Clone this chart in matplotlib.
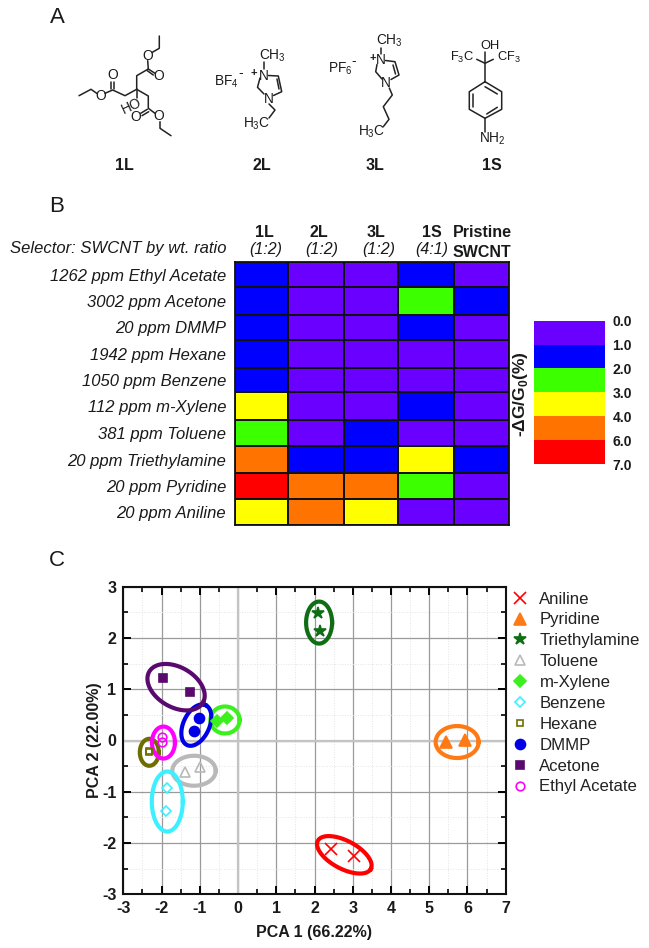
import numpy as np
import matplotlib
matplotlib.use("Agg")
import matplotlib.pyplot as plt
from matplotlib.colors import ListedColormap, BoundaryNorm
from matplotlib.cm import ScalarMappable
from matplotlib.ticker import MultipleLocator
from matplotlib.lines import Line2D

plt.rcParams['font.family'] = ['Liberation Sans', 'DejaVu Sans']
plt.rcParams['mathtext.fontset'] = 'custom'
plt.rcParams['mathtext.rm'] = 'Liberation Sans'
plt.rcParams['mathtext.bf'] = 'Liberation Sans:bold'
plt.rcParams['axes.unicode_minus'] = False

W, H = 649, 948

# ---------- Panel B data ----------
analytes = ["1262 ppm Ethyl Acetate", "3002 ppm Acetone", "20 ppm DMMP", "1942 ppm Hexane",
            "1050 ppm Benzene", "112 ppm m-Xylene", "381 ppm Toluene", "20 ppm Triethylamine",
            "20 ppm Pyridine", "20 ppm Aniline"]
selectors = ["1L", "2L", "3L", "1S", "Pristine"]
ratios = ["(1:2)", "(1:2)", "(1:2)", "(4:1)"]
response = [[1.5, 0.5, 0.5, 1.5, 0.5],
            [1.5, 0.5, 0.5, 2.5, 1.5],
            [1.5, 0.5, 0.5, 1.5, 0.5],
            [1.5, 0.5, 0.5, 0.5, 0.5],
            [1.5, 0.5, 0.5, 0.5, 0.5],
            [3.5, 0.5, 0.5, 1.5, 0.5],
            [2.5, 0.5, 1.5, 0.5, 0.5],
            [5.0, 1.5, 1.5, 3.5, 1.5],
            [6.5, 5.0, 5.0, 2.5, 0.5],
            [3.5, 5.0, 3.5, 0.5, 0.5]]
col_edges = [234.5, 288, 344.4, 398.3, 453.9, 508.7]
row_edges = [261.7, 287.3, 315.3, 339.7, 367.7, 392.3, 420, 446, 473.3, 498.7, 524.7]
levels = [0, 1, 2, 3, 4, 6, 7]
level_labels = ["0.0", "1.0", "2.0", "3.0", "4.0", "6.0", "7.0"]
band_colors = ["#6a00ff", "#0000ff", "#3cff00", "#ffff00", "#ff7400", "#ff0000"]

# ---------- Panel C data ----------
names = ["Aniline", "Pyridine", "Triethylamine", "Toluene", "m-Xylene", "Benzene", "Hexane",
         "DMMP", "Acetone", "Ethyl Acetate"]
pc1 = [[2.43, 3.02], [5.44, 5.94], [2.10, 2.15], [-1.38, -1.00], [-0.56, -0.29],
       [-1.85, -1.88], [-2.34, -2.34], [-1.01, -1.15], [-1.95, -1.25], [-1.99, -1.99]]
pc2 = [[-2.11, -2.26], [-0.02, 0.01], [2.48, 2.14], [-0.61, -0.52], [0.39, 0.43],
       [-0.92, -1.38], [-0.23, -0.20], [0.44, 0.18], [1.21, 0.94], [-0.02, 0.06]]
colors = ["#ff0000", "#ff7a14", "#0f6e14", "#b9b9b9", "#3cf01e", "#3cf0ff", "#6e6e00",
          "#0000e6", "#5a0a6e", "#ff00ff"]
markers = ["x", "^", "*", "^", "D", "D", "s", "o", "s", "o"]
filled = [True, True, True, False, True, False, False, True, True, False]
msizes = [8.5, 8.5, 9, 7.5, 6, 5.5, 5, 7.2, 6, 6.2]
# group ellipses: centre (data), semi-axes (px), tilt (deg)
ell_cx = [2.78, 5.73, 2.12, -1.15, -0.34, -1.85, -2.32, -1.09, -1.62, -1.95]
ell_cy = [-2.23, -0.03, 2.30, -0.59, 0.40, -1.19, -0.23, 0.30, 1.04, -0.04]
ell_a = [30, 21.5, 13, 21.7, 14.7, 15.5, 9.5, 22, 31, 11.5]
ell_b = [14, 16, 21, 15, 13.5, 30, 13.5, 13, 20, 16]
ell_t = [-28, 0, 0, 0, 0, 0, 0, 65, -30, 0]


def axpx(x0, y0, x1, y1, **kw):
    return fig.add_axes([x0 / W, 1 - y1 / H, (x1 - x0) / W, (y1 - y0) / H], **kw)


fig = plt.figure(figsize=(W / 100, H / 100), dpi=100, facecolor="white")

# ---------- overlay in pixel coordinates (text and structures) ----------
ov = axpx(0, 0, W, H)
ov.set_xlim(0, W)
ov.set_ylim(H, 0)
ov.axis("off")
ov.set_zorder(5)


def T(x, y, s, size=9, weight="normal", style="normal", ha="center", va="center", rot=0):
    ov.text(x, y, s, fontsize=size, fontweight=weight, fontstyle=style, ha=ha, va=va, rotation=rot,
            color="#1a1a1a")


def B(*pts, lw=1.1):
    xs, ys = zip(*pts)
    ov.plot(xs, ys, color="#222222", lw=lw, solid_capstyle="round")


for s, x, y in [("A", 57, 17), ("B", 57, 206), ("C", 57, 561)]:
    T(x, y, s, size=16)
for s, x in [("1L", 124.5), ("2L", 261.4), ("3L", 374.7), ("1S", 491.7)]:
    T(x, 165.7, s, size=11.5, weight="bold")

# 1L
B((136.7, 89.3), (125, 95.7), (112.7, 90), (105, 93.3))
B((96.7, 93.3), (91, 89.3), (79, 95.7))
B((111, 89.3), (111, 81.7)); B((114.3, 89.3), (114.3, 81.7))
B((136.7, 89.3), (136.7, 75.7), (148.3, 69), (155, 73.3)); B((147.3, 70.7), (153.3, 75))
B((148.3, 69), (147.7, 60.7)); B((152.3, 52.3), (159.3, 48.3), (159.3, 36))
B((136.7, 89.3), (148.3, 96), (148.3, 108.3), (155, 113.3)); B((136.7, 89.3), (136.7, 98))
B((147.3, 109.3), (140.7, 113.3)); B((148.7, 111.7), (142, 115.7))
B((160, 121.7), (160, 128.3), (171, 135.7))
for x, y in [(112.7, 75), (101, 96), (159, 76), (147.3, 55.7), (136, 116.7), (159, 116)]:
    T(x, y, "O", size=10)
T(131.7, 106, "HO", size=10, rot=25)

# 2L
B((264, 62), (264, 69)); B((268.5, 75.5), (278.3, 76), (281.7, 91.7), (273.5, 95.5))
B((277, 79), (279, 89)); B((260, 78), (257.5, 87.3), (264, 94))
B((269, 104), (275, 110), (269, 118))
T(264, 75.5, "N", size=9.8); T(269, 98.5, "N", size=9.8); T(254.3, 72.7, "+", size=8, weight="bold")
T(272, 56, "CH$_3$", size=9.8); T(256.7, 123.5, "H$_3$C", size=9.8)
T(226.7, 81.7, "BF$_4$", size=9.8); T(241, 73, "-", size=10)

# 3L
B((380.7, 48.3), (380.7, 54)); B((385.5, 60.5), (395, 61.7), (399, 75), (391, 79.5))
B((393, 65), (395.5, 74)); B((377, 64.5), (375.7, 71.7), (382, 79))
B((389.3, 88), (392.3, 95), (383.3, 106.7), (389, 119.3), (383.3, 126.7))
T(380.7, 60, "N", size=9.8); T(386, 83, "N", size=9.8); T(372.6, 57.5, "+", size=8, weight="bold")
T(389, 40.7, "CH$_3$", size=9.8); T(371.7, 131.7, "H$_3$C", size=9.8)
T(340, 68.5, "PF$_6$", size=9.8); T(354, 61, "-", size=10)

# 1S
B((476.7, 59.3), (485, 63.3), (493.3, 59.3)); B((485, 51.7), (485, 81.7))
B((485, 81.7), (501.7, 91.7), (501.7, 109.3), (485, 118.3), (469.3, 109.3), (469.3, 91.7), (485, 81.7))
B((485, 86.7), (497.3, 94)); B((497.3, 107.3), (486.7, 114)); B((473.3, 94), (473.3, 107.3))
B((485, 118.3), (485, 131.7))
T(490, 45.5, "OH", size=9.3); T(461.7, 57, "F$_3$C", size=9.3); T(508.8, 57, "CF$_3$", size=9.3)
T(492.7, 138.3, "NH$_2$", size=9.8)

# ---------- Panel B ----------
hm = axpx(col_edges[0], row_edges[0], col_edges[-1], row_edges[-1])
cmap = ListedColormap(band_colors)
norm = BoundaryNorm(levels, cmap.N)
hm.pcolormesh(col_edges, row_edges, np.array(response), cmap=cmap, norm=norm,
              edgecolors="#111111", linewidth=1.2)
hm.set_xlim(col_edges[0], col_edges[-1])
hm.set_ylim(row_edges[-1], row_edges[0])
hm.set_xticks([])
centers = [(a + b) / 2 for a, b in zip(row_edges[:-1], row_edges[1:])]
hm.set_yticks(centers, analytes, fontstyle="italic", fontsize=12, color="#1a1a1a")
hm.tick_params(axis="y", length=0, pad=6)
for sp in hm.spines.values():
    sp.set_linewidth(1.3)
    sp.set_color("#111111")

T(226.6, 248, "Selector: SWCNT by wt. ratio", size=12, style="italic", ha="right")
for s, x in zip(selectors[:4], [264.3, 318.7, 376, 431.5]):
    T(x, 232.5, s, size=11.5, weight="bold")
for s, x in zip(ratios, [265.6, 322, 379, 431.5]):
    T(x, 249, s, size=11.5, style="italic")
T(482, 232, selectors[4], size=11.5, weight="bold")
T(482, 252.3, "SWCNT", size=11.5, weight="bold")

cb = axpx(533.6, 320.7, 605.4, 464)
cbar = fig.colorbar(ScalarMappable(norm=norm, cmap=cmap), cax=cb, spacing="uniform",
                    ticks=levels, drawedges=False)
cb.invert_yaxis()
cb.set_yticklabels(level_labels, fontweight="bold", fontsize=10, color="#1a1a1a")
cb.tick_params(length=0, pad=5)
cbar.outline.set_visible(False)
T(520.7, 394, r"-ΔG/G$_{\mathbf{0}}$(%)", size=12.5, weight="bold", rot=90)

# ---------- Panel C ----------
ax = axpx(123.3, 586.7, 505.7, 894.3)
ax.set_xlim(-3, 7)
ax.set_ylim(-3, 3)
ax.xaxis.set_major_locator(MultipleLocator(1))
ax.xaxis.set_minor_locator(MultipleLocator(0.5))
ax.yaxis.set_major_locator(MultipleLocator(1))
ax.yaxis.set_minor_locator(MultipleLocator(0.5))
ax.grid(which="major", color="#9a9a9a", lw=0.9)
ax.grid(which="minor", color="#e4e4e4", lw=0.7, ls=":")
ax.axhline(0, color="#c4c4c4", lw=1.6, zorder=1)
ax.axvline(0, color="#c4c4c4", lw=1.6, zorder=1)
ax.set_axisbelow(True)
ax.tick_params(which="major", direction="in", length=6, width=1.4, top=True, right=True,
               labelsize=11.5, pad=5, labelcolor="#1a1a1a")
ax.tick_params(which="minor", direction="in", length=3.5, width=1.2, top=True, right=True)
for lab in ax.get_xticklabels() + ax.get_yticklabels():
    lab.set_fontweight("bold")
for sp in ax.spines.values():
    sp.set_linewidth(1.5)
    sp.set_color("#111111")
ax.set_xlabel("PCA 1 (66.22%)", fontweight="bold", fontsize=11.5, labelpad=6, color="#1a1a1a")
ax.set_ylabel("PCA 2 (22.00%)", fontweight="bold", fontsize=11.5, labelpad=0, color="#1a1a1a")

sx = (505.7 - 123.3) / 10
sy = (894.3 - 586.7) / 6
t = np.linspace(0, 2 * np.pi, 200)
handles = []
for i, nm in enumerate(names):
    th = np.radians(ell_t[i])
    ex = ell_cx[i] + (ell_a[i] * np.cos(t) * np.cos(th) - ell_b[i] * np.sin(t) * np.sin(th)) / sx
    ey = ell_cy[i] + (ell_a[i] * np.cos(t) * np.sin(th) + ell_b[i] * np.sin(t) * np.cos(th)) / sy
    ax.plot(ex, ey, color=colors[i], lw=3.0, zorder=3)
    face = colors[i] if filled[i] else "none"
    kw = dict(marker=markers[i], ms=msizes[i], mec=colors[i], mfc=face, mew=1.2, ls="none")
    ax.plot(pc1[i], pc2[i], zorder=4, **kw)
    handles.append(Line2D([], [], label=nm, **kw))
fig.legend(handles=handles, loc="upper left", bbox_to_anchor=(503 / W, 1 - 586.5 / H), frameon=False,
           fontsize=12.1, labelspacing=0.35, handletextpad=0.42, handlelength=1.45, borderpad=0.3,
           borderaxespad=0, numpoints=1, labelcolor="#222222")

fig.savefig("out.png", dpi=100)
